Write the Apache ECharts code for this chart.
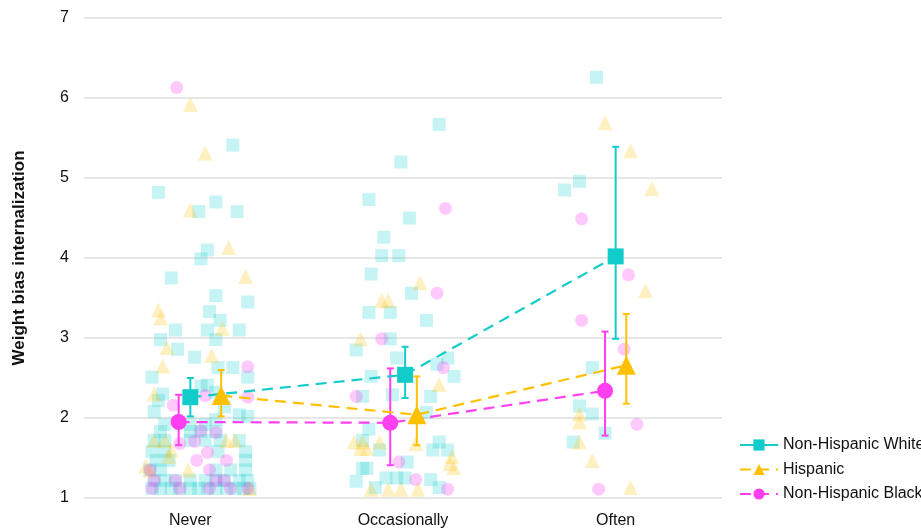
<!DOCTYPE html>
<html>
<head>
<meta charset="utf-8">
<script src="https://cdn.jsdelivr.net/npm/echarts@6/dist/echarts.min.js"></script>
<style>
  html, body { margin: 0; padding: 0; background: #ffffff; }
  #chart { width: 921px; height: 530px; }
</style>
</head>
<body>
<div id="chart"></div>
<script>
// Frequency of the experience (x categories)
const categories = ['Never', 'Occasionally', 'Often'];
const groupNames = ['Non-Hispanic White', 'Hispanic', 'Non-Hispanic Black'];

// Group means with 95% CI bounds, per category
const whiteMean = [2.26, 2.54, 4.02];
const whiteLow  = [2.02, 2.25, 2.99];
const whiteHigh = [2.50, 2.89, 5.39];
const hispMean  = [2.28, 2.04, 2.66];
const hispLow   = [2.02, 1.66, 2.18];
const hispHigh  = [2.60, 2.52, 3.30];
const blackMean = [1.95, 1.94, 2.34];
const blackLow  = [1.66, 1.41, 1.78];
const blackHigh = [2.29, 2.62, 3.08];

// Horizontal dodge of each group's mean within a category (category widths)
const whiteShift = [0.00, 0.01, 0.00];
const hispShift  = [0.145, 0.065, 0.05];
const blackShift = [-0.055, -0.06, -0.05];

// Individual responses: [horizontal jitter, score]
const whiteNever = [
  [0.20, 5.41], [-0.15, 4.82], [0.04, 4.58], [0.12, 4.70], [0.22, 4.58], [0.08, 4.10],
  [0.05, 3.99], [-0.09, 3.75], [0.12, 3.53], [0.27, 3.45], [0.09, 3.33], [0.14, 3.22],
  [-0.07, 3.10], [0.08, 3.10], [0.23, 3.10], [-0.14, 2.98], [0.12, 2.98], [-0.06, 2.86],
  [0.02, 2.76], [0.13, 2.63], [0.20, 2.63], [-0.18, 2.51], [0.27, 2.51], [0.08, 2.41],
  [0.05, 2.40], [-0.13, 2.30], [0.12, 2.32], [-0.15, 2.22], [-0.17, 2.08], [0.16, 2.14],
  [0.23, 2.04], [0.27, 2.02], [0.12, 1.98],
  [-0.12, 1.92], [0.00, 1.92], [0.07, 1.92],
  [-0.14, 1.83], [0.00, 1.83], [0.05, 1.83], [0.12, 1.83],
  [-0.17, 1.72], [-0.12, 1.72], [0.00, 1.72], [0.07, 1.72], [0.14, 1.72], [0.23, 1.72],
  [-0.18, 1.58], [-0.12, 1.58], [0.13, 1.58], [0.26, 1.58],
  [-0.16, 1.47], [-0.10, 1.47], [0.26, 1.47],
  [-0.19, 1.35], [-0.14, 1.35], [0.12, 1.35], [0.19, 1.35], [0.26, 1.35],
  [-0.17, 1.22], [-0.12, 1.22], [-0.07, 1.22], [0.00, 1.22], [0.07, 1.22], [0.12, 1.22],
  [0.16, 1.22], [0.23, 1.22], [0.27, 1.22],
  [-0.18, 1.12], [-0.14, 1.12], [-0.09, 1.12], [-0.05, 1.12], [0.00, 1.12], [0.04, 1.12],
  [0.08, 1.12], [0.12, 1.12], [0.17, 1.12], [0.21, 1.12], [0.25, 1.12], [0.28, 1.12]
];
const whiteOccasionally = [
  [0.17, 5.67], [-0.01, 5.20], [-0.16, 4.73], [0.03, 4.50], [-0.09, 4.26], [-0.10, 4.03],
  [-0.02, 4.03], [-0.15, 3.80], [0.04, 3.56], [-0.16, 3.32], [-0.06, 3.32], [0.11, 3.22],
  [-0.06, 2.99], [-0.22, 2.85], [-0.03, 2.75], [0.21, 2.75], [0.16, 2.67], [0.24, 2.52],
  [-0.15, 2.52], [-0.19, 2.27], [0.13, 2.27], [-0.05, 2.29], [0.11, 2.07], [-0.16, 1.86],
  [-0.19, 1.72], [-0.11, 1.60], [0.17, 1.70], [0.14, 1.60], [0.21, 1.60], [0.02, 1.45],
  [-0.19, 1.37], [-0.17, 1.37], [-0.22, 1.21], [-0.08, 1.25], [-0.03, 1.25], [0.01, 1.25],
  [0.13, 1.23], [-0.13, 1.13], [0.17, 1.13]
];
const whiteOften = [
  [-0.09, 6.26], [-0.17, 4.96], [-0.24, 4.85], [-0.11, 2.63], [-0.17, 2.15], [-0.11, 2.05],
  [-0.05, 1.81], [-0.20, 1.70]
];

const hispNever = [
  [0.00, 5.92], [0.07, 5.31], [0.00, 4.60], [0.18, 4.13], [0.26, 3.77], [-0.15, 3.35],
  [-0.14, 3.25], [0.15, 3.12], [-0.11, 2.88], [0.10, 2.78], [-0.13, 2.65], [-0.17, 2.30],
  [-0.17, 1.72], [-0.12, 1.72], [0.17, 1.72], [0.21, 1.72], [-0.19, 1.35], [-0.01, 1.35],
  [-0.10, 1.52], [-0.09, 1.60], [0.28, 1.12], [-0.21, 1.40]
];
const hispOccasionally = [
  [0.08, 3.69], [-0.10, 3.47], [-0.07, 3.47], [-0.20, 2.99], [0.17, 2.42], [-0.23, 1.70],
  [-0.19, 1.70], [-0.11, 1.70], [-0.20, 1.62], [-0.17, 1.62], [0.06, 1.68], [0.23, 1.52],
  [0.22, 1.43], [0.24, 1.38], [-0.15, 1.11], [-0.07, 1.11], [-0.01, 1.11], [0.07, 1.11]
];
const hispOften = [
  [-0.05, 5.69], [0.07, 5.34], [0.17, 4.87], [0.14, 3.59], [-0.17, 2.05], [-0.17, 1.95],
  [-0.17, 1.70], [-0.11, 1.47], [0.07, 1.13]
];

const blackNever = [
  [-0.064, 6.13], [0.27, 2.64], [0.07, 2.28], [0.27, 2.26], [-0.08, 2.16],
  [0.05, 1.84], [0.12, 1.82], [0.02, 1.71], [-0.05, 1.68], [0.03, 1.47], [0.08, 1.57],
  [0.17, 1.47], [-0.19, 1.35], [0.09, 1.35], [-0.17, 1.22], [-0.07, 1.22], [0.12, 1.22],
  [0.16, 1.22], [-0.18, 1.12], [-0.05, 1.12], [0.09, 1.12], [0.19, 1.12], [0.27, 1.12]
];
const blackOccasionally = [
  [0.20, 4.62], [0.16, 3.56], [-0.10, 2.99], [0.19, 2.63], [-0.22, 2.27], [-0.02, 1.45],
  [0.06, 1.23], [0.21, 1.11]
];
const blackOften = [
  [-0.16, 4.49], [0.06, 3.79], [-0.16, 3.22], [0.04, 2.86], [0.10, 1.92], [-0.08, 1.11]
];

const colors = ['#12cccc', '#ffc000', '#ff3ff0'];
const symbols = ['rect', 'triangle', 'circle'];
const font = 'Liberation Sans, Arial, Helvetica, sans-serif';

function placed(groups) {
  const out = [];
  groups.forEach((pts, ci) => pts.forEach(p => out.push([ci + p[0], p[1]])));
  return out;
}

const responses = [
  placed([whiteNever, whiteOccasionally, whiteOften]),
  placed([hispNever, hispOccasionally, hispOften]),
  placed([blackNever, blackOccasionally, blackOften])
];
const means = [whiteMean, hispMean, blackMean];
const lows = [whiteLow, hispLow, blackLow];
const highs = [whiteHigh, hispHigh, blackHigh];
const shifts = [whiteShift, hispShift, blackShift];

const series = [];

// Faint jittered responses
responses.forEach((data, g) => {
  series.push({
    name: groupNames[g] + ' responses',
    type: 'scatter',
    xAxisIndex: 1,
    symbol: symbols[g],
    symbolSize: g === 1 ? 15 : 13,
    itemStyle: { color: colors[g], opacity: g === 2 ? 0.28 : 0.24 },
    data: data,
    z: 1,
    silent: true
  });
});

// Confidence intervals
means.forEach((m, g) => {
  const data = m.map((_, i) => [i + shifts[g][i], lows[g][i], highs[g][i]]);
  series.push({
    name: groupNames[g] + ' CI',
    type: 'custom',
    xAxisIndex: 1,
    z: 4,
    silent: true,
    encode: { x: 0, y: [1, 2] },
    renderItem: function (params, api) {
      const x = api.value(0);
      const top = api.coord([x, api.value(2)]);
      const bot = api.coord([x, api.value(1)]);
      const cap = 3.5;
      const st = { stroke: colors[g], lineWidth: 2 };
      return {
        type: 'group',
        children: [
          { type: 'line', shape: { x1: top[0], y1: top[1], x2: bot[0], y2: bot[1] }, style: st },
          { type: 'line', shape: { x1: top[0] - cap, y1: top[1], x2: top[0] + cap, y2: top[1] }, style: st },
          { type: 'line', shape: { x1: bot[0] - cap, y1: bot[1], x2: bot[0] + cap, y2: bot[1] }, style: st }
        ]
      };
    },
    data: data
  });
});

// Group means joined by dashed lines
means.forEach((m, g) => {
  series.push({
    name: groupNames[g],
    type: 'line',
    xAxisIndex: 1,
    z: 5,
    symbol: symbols[g],
    symbolSize: g === 1 ? 19 : 16,
    showSymbol: true,
    itemStyle: { color: colors[g], opacity: 1 },
    lineStyle: { color: colors[g], width: 2.2, type: [11, 7] },
    data: m.map((v, i) => [i + shifts[g][i], v])
  });
});

const chart = echarts.init(document.getElementById('chart'), null, { renderer: 'canvas' });
chart.setOption({
  animation: false,
  backgroundColor: '#ffffff',
  textStyle: { fontFamily: font },
  grid: { left: 84, right: 199, top: 18, bottom: 32, containLabel: false },
  legend: {
    orient: 'vertical',
    left: 734,
    top: 432,
    itemWidth: 38,
    itemHeight: 14,
    itemGap: 8.5,
    textStyle: { fontSize: 16, color: '#111', fontFamily: font },
    data: [
      { name: groupNames[0], lineStyle: { type: 'solid' } },
      { name: groupNames[1] },
      { name: groupNames[2] }
    ]
  },
  xAxis: [
    {
      type: 'category',
      data: categories,
      boundaryGap: true,
      axisLine: { show: false },
      axisTick: { show: false },
      axisLabel: { fontSize: 16, color: '#111', margin: 15 }
    },
    {
      type: 'value',
      min: -0.5,
      max: 2.5,
      show: false
    }
  ],
  yAxis: {
    type: 'value',
    min: 1,
    max: 7,
    interval: 1,
    name: 'Weight bias internalization',
    nameLocation: 'middle',
    nameGap: 56,
    nameTextStyle: { fontSize: 17, fontWeight: 'bold', color: '#111', fontFamily: font },
    axisLine: { show: false },
    axisTick: { show: false },
    axisLabel: { fontSize: 16, color: '#111', margin: 15 },
    splitLine: { lineStyle: { color: '#dedede', width: 1.5 } }
  },
  series: series
});
</script>
</body>
</html>
